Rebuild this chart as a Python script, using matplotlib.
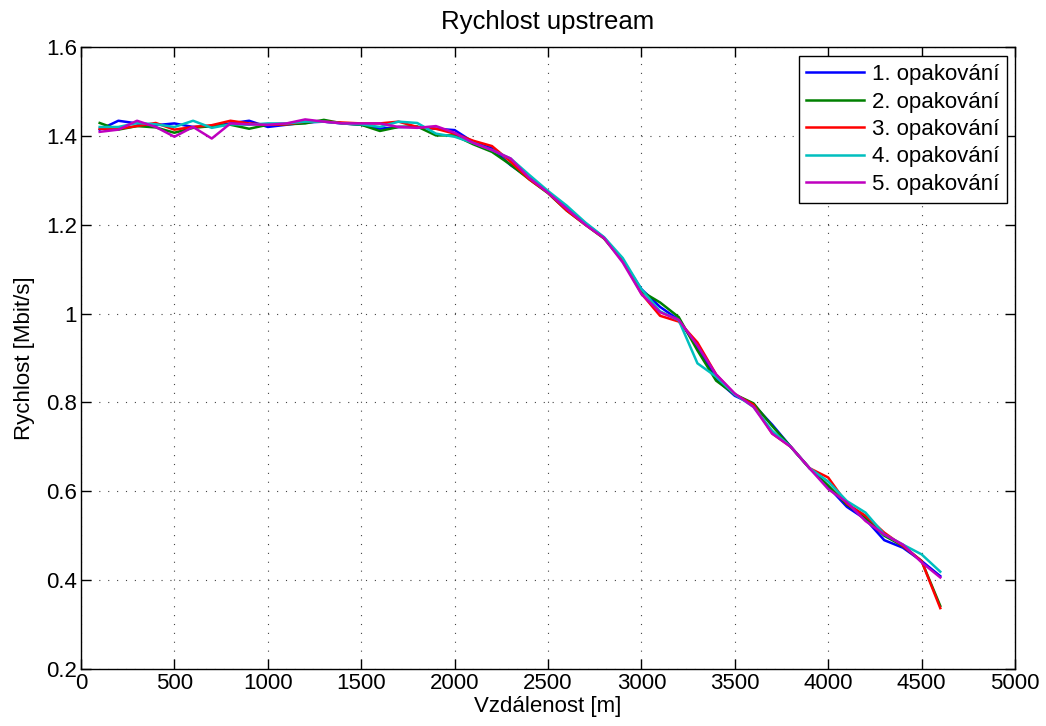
"""Graf rychlosti upstream v zavislosti na vzdalenosti (5 opakovani mereni)"""

import matplotlib
matplotlib.use('Agg')
import matplotlib.pyplot as plt
from matplotlib.ticker import FuncFormatter

# vzdalenost v metrech
vzdalenost = list(range(100, 4700, 100))

# namerene rychlosti [Mbit/s]
opak1 = [1.414, 1.434, 1.428, 1.424, 1.428, 1.420, 1.422, 1.428, 1.434, 1.420,
         1.425, 1.430, 1.432, 1.428, 1.425, 1.416, 1.420, 1.420, 1.416, 1.413,
         1.386, 1.372, 1.334, 1.305, 1.273, 1.238, 1.203, 1.171, 1.120, 1.055,
         1.015, 0.986, 0.925, 0.852, 0.815, 0.795, 0.750, 0.700, 0.652, 0.610,
         0.565, 0.537, 0.490, 0.473, 0.443, 0.409]
opak2 = [1.429, 1.414, 1.422, 1.419, 1.407, 1.418, 1.422, 1.425, 1.416, 1.425,
         1.426, 1.428, 1.436, 1.428, 1.425, 1.411, 1.420, 1.421, 1.401, 1.401,
         1.381, 1.364, 1.335, 1.302, 1.271, 1.232, 1.200, 1.169, 1.118, 1.050,
         1.025, 0.992, 0.917, 0.849, 0.818, 0.798, 0.747, 0.700, 0.652, 0.613,
         0.570, 0.541, 0.500, 0.477, 0.443, 0.342]
opak3 = [1.416, 1.416, 1.422, 1.429, 1.414, 1.420, 1.424, 1.434, 1.428, 1.425,
         1.426, 1.432, 1.432, 1.430, 1.428, 1.428, 1.432, 1.420, 1.416, 1.405,
         1.389, 1.377, 1.342, 1.302, 1.272, 1.232, 1.200, 1.170, 1.120, 1.045,
         0.995, 0.982, 0.935, 0.863, 0.818, 0.795, 0.730, 0.700, 0.652, 0.631,
         0.572, 0.545, 0.507, 0.477, 0.443, 0.337]
opak4 = [1.420, 1.420, 1.429, 1.426, 1.420, 1.434, 1.418, 1.426, 1.425, 1.428,
         1.428, 1.432, 1.432, 1.428, 1.426, 1.420, 1.432, 1.429, 1.405, 1.398,
         1.384, 1.368, 1.349, 1.312, 1.276, 1.243, 1.205, 1.172, 1.125, 1.055,
         1.005, 0.985, 0.888, 0.858, 0.818, 0.790, 0.736, 0.700, 0.652, 0.622,
         0.578, 0.552, 0.503, 0.480, 0.458, 0.419]
opak5 = [1.409, 1.414, 1.434, 1.420, 1.398, 1.420, 1.394, 1.428, 1.426, 1.425,
         1.428, 1.437, 1.432, 1.428, 1.428, 1.428, 1.420, 1.418, 1.422, 1.407,
         1.384, 1.368, 1.349, 1.305, 1.272, 1.236, 1.200, 1.170, 1.115, 1.044,
         1.003, 0.986, 0.928, 0.863, 0.820, 0.790, 0.730, 0.700, 0.652, 0.605,
         0.575, 0.533, 0.503, 0.480, 0.440, 0.406]

popisky = ['1. opakování', '2. opakování', '3. opakování', '4. opakování', '5. opakování']
# barvy jako v MATLABu (b, g, r, c, m)
barvy = ['#0000ff', '#008000', '#ff0000', '#00bfbf', '#bf00bf']

plt.rcParams['font.family'] = ['Liberation Sans', 'DejaVu Sans']
plt.rcParams['font.size'] = 16

fig = plt.figure(figsize=(10.46, 7.26), dpi=100)
ax = fig.add_axes([81 / 1046, 1 - 669 / 726, 934 / 1046, 622 / 726])

for y, lbl, c in zip([opak1, opak2, opak3, opak4, opak5], popisky, barvy):
    ax.plot(vzdalenost, y, color=c, linewidth=1.8, label=lbl)

ax.set_xlim(0, 5000)
ax.set_ylim(0.2, 1.6)
ax.set_xticks(range(0, 5001, 500))
ax.set_yticks([0.2, 0.4, 0.6, 0.8, 1.0, 1.2, 1.4, 1.6])
ax.yaxis.set_major_formatter(FuncFormatter(lambda v, p: f'{v:g}'))

# MATLAB styl: tecky v mrizce, ticky dovnitr na vsech stranach
ax.grid(True, linestyle=(0, (1, 7)), color='#444444', linewidth=0.8)
ax.tick_params(direction='in', top=True, right=True, length=7, width=1, labelsize=16, pad=3)
for s in ax.spines.values():
    s.set_linewidth(1.0)

ax.set_title('Rychlost upstream', fontsize=18.5, pad=13)
ax.set_xlabel('Vzdálenost [m]', fontsize=16, labelpad=1)
ax.set_ylabel('Rychlost [Mbit/s]', fontsize=16, labelpad=8)

leg = ax.legend(loc='upper right', bbox_to_anchor=(0.9915, 0.985), fancybox=False,
                framealpha=1, edgecolor='black', fontsize=16, handlelength=2.6,
                borderpad=0.35, labelspacing=0.29, handletextpad=0.35, borderaxespad=0)
leg.get_frame().set_linewidth(1.0)

fig.savefig('out.png', dpi=100)
